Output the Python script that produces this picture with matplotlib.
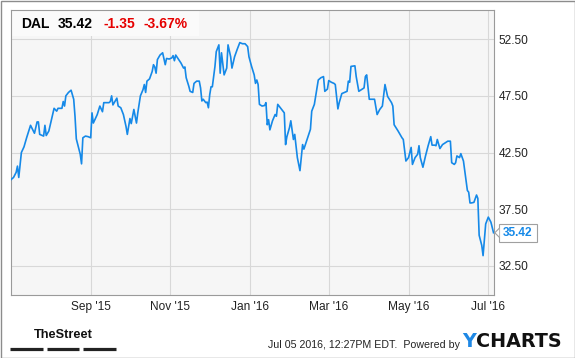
import matplotlib
matplotlib.use('Agg')
import matplotlib.pyplot as plt
import matplotlib.patches as patches
from matplotlib.lines import Line2D
from matplotlib.ticker import FormatStrFormatter
import pandas as pd

plt.rcParams['font.family'] = ['Liberation Sans', 'DejaVu Sans']

# DAL closing prices
dates = [
    '2015-07-02', '2015-07-04', '2015-07-06', '2015-07-07', '2015-07-08', '2015-07-10',
    '2015-07-12', '2015-07-14', '2015-07-17', '2015-07-20', '2015-07-22', '2015-07-23',
    '2015-07-24', '2015-07-27', '2015-07-28', '2015-07-29', '2015-07-31', '2015-08-02',
    '2015-08-04', '2015-08-06', '2015-08-07', '2015-08-10', '2015-08-11', '2015-08-12',
    '2015-08-13', '2015-08-15', '2015-08-17', '2015-08-19', '2015-08-20', '2015-08-21',
    '2015-08-24', '2015-08-25', '2015-08-26', '2015-08-28', '2015-08-30', '2015-09-01',
    '2015-09-02', '2015-09-03', '2015-09-06', '2015-09-08', '2015-09-10', '2015-09-11',
    '2015-09-15', '2015-09-16', '2015-09-17', '2015-09-18', '2015-09-21', '2015-09-22',
    '2015-09-24', '2015-09-26', '2015-09-28', '2015-09-29', '2015-10-01', '2015-10-02',
    '2015-10-04', '2015-10-06', '2015-10-07', '2015-10-09', '2015-10-11', '2015-10-12',
    '2015-10-13', '2015-10-14', '2015-10-16', '2015-10-18', '2015-10-19', '2015-10-20',
    '2015-10-21', '2015-10-22', '2015-10-24', '2015-10-26', '2015-10-28', '2015-10-29',
    '2015-10-31', '2015-11-02', '2015-11-03', '2015-11-04', '2015-11-05', '2015-11-07',
    '2015-11-09', '2015-11-11', '2015-11-12', '2015-11-13', '2015-11-15', '2015-11-16',
    '2015-11-18', '2015-11-19', '2015-11-21', '2015-11-23', '2015-11-24', '2015-11-25',
    '2015-11-26', '2015-11-28', '2015-11-29', '2015-11-30', '2015-12-01', '2015-12-02',
    '2015-12-03', '2015-12-05', '2015-12-06', '2015-12-08', '2015-12-09', '2015-12-10',
    '2015-12-12', '2015-12-14', '2015-12-15', '2015-12-17', '2015-12-18', '2015-12-20',
    '2015-12-22', '2015-12-24', '2015-12-26', '2015-12-28', '2015-12-30', '2015-12-31',
    '2016-01-02', '2016-01-04', '2016-01-05', '2016-01-06', '2016-01-07', '2016-01-08',
    '2016-01-10', '2016-01-12', '2016-01-13', '2016-01-14', '2016-01-15', '2016-01-16',
    '2016-01-18', '2016-01-20', '2016-01-21', '2016-01-22', '2016-01-24', '2016-01-26',
    '2016-01-27', '2016-01-28', '2016-01-29', '2016-01-31', '2016-02-01', '2016-02-03',
    '2016-02-04', '2016-02-06', '2016-02-08', '2016-02-10', '2016-02-11', '2016-02-13',
    '2016-02-16', '2016-02-17', '2016-02-19', '2016-02-21', '2016-02-22', '2016-02-24',
    '2016-02-26', '2016-02-27', '2016-02-29', '2016-03-01', '2016-03-03', '2016-03-05',
    '2016-03-06', '2016-03-08', '2016-03-09', '2016-03-11', '2016-03-13', '2016-03-15',
    '2016-03-16', '2016-03-17', '2016-03-18', '2016-03-21', '2016-03-22', '2016-03-24',
    '2016-03-26', '2016-03-28', '2016-03-29', '2016-03-30', '2016-04-01', '2016-04-05',
    '2016-04-07', '2016-04-09', '2016-04-11', '2016-04-13', '2016-04-15', '2016-04-18',
    '2016-04-19', '2016-04-20', '2016-04-23', '2016-04-26', '2016-04-27', '2016-04-29',
    '2016-05-01', '2016-05-03', '2016-05-04', '2016-05-06', '2016-05-08', '2016-05-09',
    '2016-05-10', '2016-05-12', '2016-05-14', '2016-05-16', '2016-05-18', '2016-05-19',
    '2016-05-21', '2016-05-22', '2016-05-23', '2016-05-25', '2016-05-27', '2016-05-29',
    '2016-05-31', '2016-06-02', '2016-06-03', '2016-06-05', '2016-06-06', '2016-06-07',
    '2016-06-09', '2016-06-10', '2016-06-12', '2016-06-13', '2016-06-15', '2016-06-16',
    '2016-06-17', '2016-06-18', '2016-06-20', '2016-06-22', '2016-06-23', '2016-06-24',
    '2016-06-26', '2016-06-27', '2016-06-29', '2016-06-30', '2016-07-01', '2016-07-03',
    '2016-07-05',
]
prices = [
    40.10, 40.30, 40.75, 41.30, 40.30, 42.50,
    43.00, 43.80, 44.90, 44.20, 45.20, 45.20,
    44.10, 43.95, 44.90, 44.00, 44.40, 45.40,
    46.40, 46.15, 46.40, 46.40, 47.00, 46.60,
    47.50, 47.80, 48.00, 47.20, 45.70, 43.70,
    42.35, 41.50, 43.80, 43.95, 43.90, 43.80,
    46.00, 45.10, 45.85, 46.60, 46.10, 46.90,
    46.90, 47.00, 47.50, 46.70, 47.30, 46.60,
    46.45, 45.85, 44.80, 44.10, 45.50, 45.05,
    46.30, 45.10, 46.00, 47.50, 48.05, 48.50,
    47.80, 48.80, 49.00, 49.65, 50.25, 50.05,
    49.50, 50.70, 51.10, 51.30, 50.25, 50.80,
    50.75, 50.85, 51.05, 50.60, 51.10, 50.75,
    50.40, 49.95, 50.05, 49.10, 48.35, 47.90,
    47.80, 48.60, 48.80, 48.80, 48.20, 47.05,
    47.20, 46.90, 46.95, 46.45, 47.60, 48.30,
    48.30, 50.10, 51.40, 52.00, 49.50, 51.30,
    49.35, 49.95, 52.00, 50.95, 49.95, 50.95,
    51.60, 52.20, 52.10, 52.10, 51.85, 50.95,
    50.10, 49.35, 48.60, 48.90, 48.50, 46.75,
    46.60, 46.65, 46.90, 44.95, 45.40, 44.50,
    45.30, 45.85, 45.70, 46.75, 46.45, 46.15,
    46.00, 43.20, 43.90, 44.70, 45.30, 43.65,
    44.10, 42.05, 40.90, 43.20, 42.80, 43.50,
    44.55, 46.15, 46.75, 48.20, 48.90, 49.10,
    49.20, 47.90, 48.10, 48.85, 48.70, 48.60,
    48.50, 46.35, 46.90, 47.70, 47.80, 47.90,
    48.80, 48.70, 50.10, 50.15, 49.20, 47.90,
    48.05, 48.20, 49.20, 49.35, 47.20, 47.20,
    45.85, 46.30, 46.60, 48.50, 47.45, 46.90,
    46.60, 44.95, 44.40, 43.80, 43.65, 41.75,
    42.05, 42.95, 41.45, 42.05, 42.35, 43.10,
    42.05, 41.20, 42.20, 43.10, 43.90, 43.15,
    43.15, 43.10, 43.65, 42.85, 43.20, 43.35,
    43.50, 43.50, 41.60, 41.45, 41.60, 42.20,
    42.05, 42.40, 41.75, 40.90, 39.15, 39.00,
    38.05, 38.05, 38.10, 38.75, 38.45, 35.20,
    34.30, 33.40, 36.20, 36.50, 36.80, 36.35,
    35.42,
]

ticker = 'DAL'
last_price = 35.42
change = '-1.35'
change_pct = '-3.67%'

ytick_values = [32.5, 37.5, 42.5, 47.5, 52.5]
xtick_dates = ['2015-09-01', '2015-11-01', '2016-01-01', '2016-03-01', '2016-05-01', '2016-07-01']
xtick_labels = ["Sep '15", "Nov '15", "Jan '16", "Mar '16", "May '16", "Jul '16"]

W, H = 575, 358
fig = plt.figure(figsize=(W / 100, H / 100), dpi=100)

# plot area in pixels: left 10.7, right 494.3, top 10.3, bottom 295.3
ax = fig.add_axes([10.7 / W, (H - 295.3) / H, (494.3 - 10.7) / W, (295.3 - 10.3) / H])
ax.set_facecolor('#f6f6f6')

x = pd.to_datetime(dates)
ax.plot(x, prices, color='#1589e8', linewidth=1.2, zorder=3)

ax.set_xlim(pd.Timestamp('2015-07-01 20:00'), pd.Timestamp('2016-07-05 14:00'))
ax.set_ylim(29.9, 55.05)

ax.yaxis.tick_right()
ax.set_yticks(ytick_values)
ax.yaxis.set_major_formatter(FormatStrFormatter('%.2f'))
ax.set_xticks(pd.to_datetime(xtick_dates))
ax.set_xticklabels(xtick_labels)
ax.tick_params(length=0, labelsize=8.6, colors='#222222')
ax.tick_params(axis='y', pad=3)
ax.tick_params(axis='x', pad=4)

ax.set_axisbelow(True)
ax.grid(True, color='#d8d8d8', linewidth=0.8)
for s in ax.spines.values():
    s.set_color('#9a9a9a')
    s.set_linewidth(0.8)

# header box with quote
ax.add_patch(patches.Rectangle((0, 1 - 25.7 / 285), (199 - 10.7) / 483.6, 25.7 / 285,
                               transform=ax.transAxes, facecolor='#fafafa',
                               edgecolor='none', zorder=1))
base_y = (H - 28.3) / H
fig.text(21 / W, base_y, ticker, fontsize=10, fontweight='bold', color='black', va='baseline')
fig.text(58 / W, base_y, '%.2f' % last_price, fontsize=10, fontweight='bold', color='black', va='baseline')
fig.text(103 / W, base_y, change, fontsize=10, fontweight='bold', color='#e60000', va='baseline')
fig.text(143 / W, base_y, change_pct, fontsize=10, fontweight='bold', color='#e60000', va='baseline')

# price tag at right axis
fig.canvas.draw()
tip = ax.transData.transform((ax.get_xlim()[1], last_price))
tx, ty = tip[0], tip[1]
box_l = tx + 5
fig.add_artist(patches.Rectangle(((box_l) / W, (ty - 9) / H), 37.5 / W, 18 / H,
                                 transform=fig.transFigure, facecolor='white',
                                 edgecolor='#a0a0a0', linewidth=0.8))
fig.add_artist(patches.Polygon([(box_l / W, (ty + 4.5) / H), ((tx + 0.5) / W, ty / H),
                                (box_l / W, (ty - 4.5) / H)],
                               closed=False, transform=fig.transFigure,
                               facecolor='white', edgecolor='#a0a0a0', linewidth=0.8))
fig.text((box_l + 18.75) / W, ty / H, '%.2f' % last_price, fontsize=8.6, fontweight='bold',
         color='#1589e8', ha='center', va='center')

# footer
fig.text(63 / W, (H - 335.5) / H, 'TheStreet', family=['Liberation Sans Narrow', 'Liberation Sans'],
         fontstretch='condensed', fontsize=9.2, fontweight='bold', color='#111111',
         ha='center', va='center')
for x0, x1 in [(10, 42.5), (46.7, 79), (83.3, 115.7)]:
    fig.add_artist(Line2D([x0 / W, x1 / W], [(H - 349) / H] * 2, transform=fig.transFigure,
                          color='#222222', linewidth=2.3, solid_capstyle='butt'))
fig.text(460 / W, (H - 345) / H, 'Jul 05 2016, 12:27PM EDT.  Powered by', fontsize=7.7,
         color='#222222', ha='right', va='center')
y_logo = fig.text(462.5 / W, (H - 341.5) / H, 'Y', family='DejaVu Sans', fontsize=13.8,
                  fontweight='bold', color='#1e88e5', ha='left', va='center')
fig.canvas.draw()
bb = y_logo.get_window_extent()
fig.text(bb.x1 / W, (H - 341.5) / H, 'CHARTS', family='DejaVu Sans', fontsize=13.8,
         fontweight='bold', color='#111111', ha='left', va='center')

# outer frame
fig.add_artist(patches.Rectangle((0.5 / W, 0.5 / H), (W - 1) / W, (H - 1) / H,
                                 transform=fig.transFigure, facecolor='none',
                                 edgecolor='#8c8c8c', linewidth=1.0))

fig.savefig('out.png', dpi=100)
